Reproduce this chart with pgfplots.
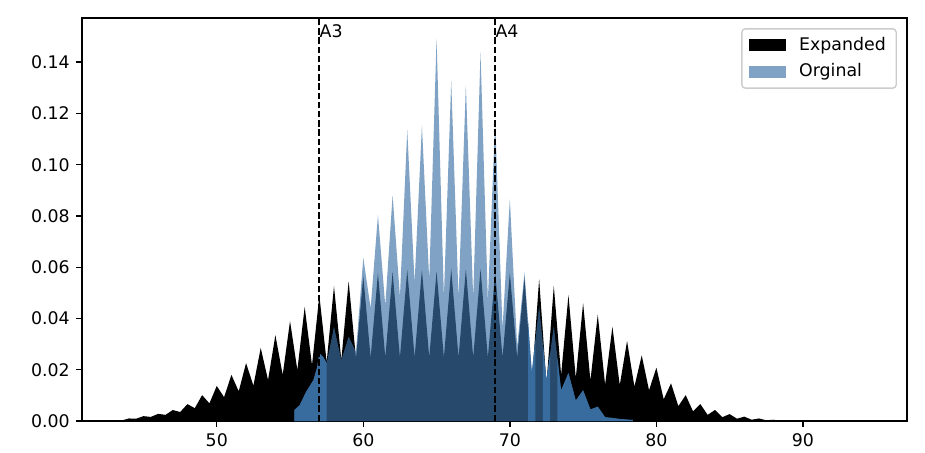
\documentclass[border=0pt]{standalone}
\usepackage{fontspec}
\setmainfont{DejaVu Sans}
\usepackage{pgfplots}
\pgfplotsset{compat=1.18}
\usepackage{pgfplotstable}

\definecolor{origblue}{RGB}{60,114,166}
\definecolor{origmid}{RGB}{56,108,158}

% Expanded: density per pitch (peaks at integers, valleys in between)
\pgfplotstableread{
x y
43.4 0
43.5 0.0002
44 0.0010
44.5 0.0009
45 0.0019
45.5 0.0016
46 0.0028
46.5 0.0024
47 0.0043
47.5 0.0035
48 0.0066
48.5 0.0050
49 0.0101
49.5 0.0069
50 0.0137
50.5 0.0093
51 0.0180
51.5 0.0116
52 0.0226
52.5 0.0138
53 0.0285
53.5 0.0160
54 0.0335
54.5 0.0180
55 0.0390
55.5 0.0199
56 0.0445
56.5 0.0218
57 0.0490
57.5 0.0230
58 0.0526
58.5 0.0238
59 0.0545
59.5 0.0244
60 0.0565
60.5 0.0247
61 0.0577
61.5 0.0248
62 0.0582
62.5 0.0248
63 0.0589
63.5 0.0248
64 0.0590
64.5 0.0248
65 0.0584
65.5 0.0248
66 0.0593
66.5 0.0248
67 0.0593
67.5 0.0248
68 0.0593
68.5 0.0248
69 0.0580
69.5 0.0248
70 0.0577
70.5 0.0248
71 0.0558
71.5 0.0150
72 0.0554
72.5 0.0145
73 0.0527
73.5 0.0180
74 0.0491
74.5 0.0168
75 0.0460
75.5 0.0158
76 0.0415
76.5 0.0142
77 0.0368
77.5 0.0140
78 0.0312
78.5 0.0134
79 0.0256
79.5 0.0120
80 0.0208
80.5 0.0085
81 0.0147
81.5 0.0058
82 0.0101
82.5 0.0038
83 0.0066
83.5 0.0024
84 0.0043
84.5 0.0015
85 0.0027
85.5 0.0009
86 0.0017
86.5 0.0005
87 0.0010
87.5 0.0003
88 0.0005
88.5 0.0001
89.5 0
94.5 0
}\expanded

% Orginal
\pgfplotstableread{
x y
55.3 0
55.3 0.0043
55.66 0.0062
56.1 0.0114
56.6 0.0160
56.85 0.0210
57 0.0264
57.26 0.0250
57.5 0.0226
58 0.0368
58.5 0.0238
59 0.0329
59.5 0.0270
60 0.0637
60.5 0.0440
61 0.0803
61.5 0.0450
62 0.0881
62.5 0.0485
63 0.1135
63.5 0.0540
64 0.1153
64.5 0.0550
65 0.1492
65.5 0.0485
66 0.1327
66.5 0.0480
67 0.1310
67.5 0.0480
68 0.1438
68.5 0.0470
69 0.1170
69.5 0.0360
70 0.0866
70.5 0.0290
71 0.0580
71.25 0.0385
71.5 0.0190
71.75 0.0320
72 0.0450
72.25 0.0305
72.5 0.0160
72.75 0.0265
73 0.0370
73.25 0.0245
73.5 0.0120
74 0.0187
74.5 0.0080
75 0.0120
75.5 0.0045
76 0.0056
76.5 0.0015
77 0.0012
77.5 0.0008
78.4 0.0004
78.4 0
}\original

\begin{document}
\begin{tikzpicture}
\begin{axis}[
    scale only axis,
    width=475.2pt, height=232.1pt,
    xmin=40.8, xmax=97.1,
    ymin=0, ymax=0.1572,
    xtick={50,60,70,80,90},
    ytick={0,0.02,0.04,0.06,0.08,0.10,0.12,0.14},
    scaled y ticks=false,
    yticklabel style={/pgf/number format/.cd, fixed, fixed zerofill, precision=2},
    /pgf/number format/assume math mode=true,
    tick align=outside,
    xtick pos=left, ytick pos=left,
    major tick length=3.5pt,
    tick style={black, line width=0.8pt},
    axis line style={line width=0.8pt},
    ticklabel style={font=\normalsize},
    legend style={at={(1,1)}, anchor=north east, xshift=-5.8pt, yshift=-5.8pt,
        draw=black!20, line width=0.8pt, rounded corners=2pt,
        fill=white, inner xsep=4pt, inner ysep=3pt, row sep=2pt,
        font=\normalsize},
    legend cell align=left,
    legend image code/.code={%
        \fill[#1, sharp corners] (0pt,-3.5pt) rectangle (21.3pt,3.5pt);
        \path (27pt,0pt);},
]
\addplot[fill=black, draw=none] table {\expanded} \closedcycle;
\addlegendentry{Expanded}
\addplot[fill=origblue, fill opacity=0.65, draw=none] table {\original} \closedcycle;
\addlegendentry{Orginal}
\addplot[fill=origmid, draw=none, forget plot, restrict x to domain=55.3:57.5] table {\original} \closedcycle;
\addplot[fill=origmid, draw=none, forget plot, restrict x to domain=71.25:71.75] table {\original} \closedcycle;
\addplot[fill=origmid, draw=none, forget plot, restrict x to domain=72.25:72.75] table {\original} \closedcycle;
\addplot[fill=origmid, draw=none, forget plot, restrict x to domain=73.25:78.4] table {\original} \closedcycle;
\addplot[black, line width=1pt, dash pattern=on 3.7pt off 1.6pt, forget plot] coordinates {(57,0) (57,0.1572)};
\addplot[black, line width=1pt, dash pattern=on 3.7pt off 1.6pt, forget plot] coordinates {(69,0) (69,0.1572)};
\node[anchor=base west, inner sep=0pt] at (axis cs:57,0.1498) {A3};
\node[anchor=base west, inner sep=0pt] at (axis cs:69,0.1498) {A4};
\end{axis}
\path (current axis.south west) ++(-47.2pt,-17.9pt);
\path (current axis.north east) ++(10.4pt,10.4pt);
\end{tikzpicture}
\end{document}
